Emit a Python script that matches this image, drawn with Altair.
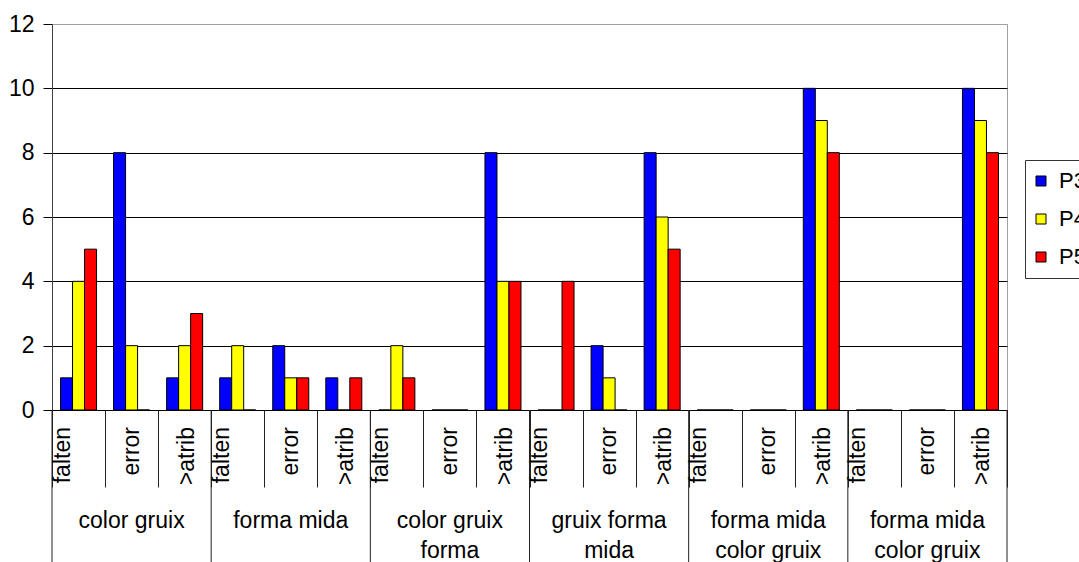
import altair as alt
import pandas as pd

# Category hierarchy: six groups, each split into three sub-categories
group_labels = [
    "color gruix",
    "forma mida",
    "color gruix\nforma",
    "gruix forma\nmida",
    "forma mida\ncolor gruix",
    "forma mida\ncolor gruix",
]
sub_labels = ["falten", "error", ">atrib"]

# Series values, one per (group, sub-category) cell
series = ["P3", "P4", "P5"]
p3 = [1, 8, 1, 1, 2, 1, 0, 0, 8, 0, 2, 8, 0, 0, 10, 0, 0, 10]
p4 = [4, 2, 2, 2, 1, 0, 2, 0, 4, 0, 1, 6, 0, 0, 9, 0, 0, 9]
p5 = [5, 0, 3, 0, 1, 1, 1, 0, 4, 4, 0, 5, 0, 0, 8, 0, 0, 8]
series_colors = ["#0000ff", "#ffff00", "#ff0000"]
y_ticks = [0, 2, 4, 6, 8, 10, 12]

FONT = "Liberation Sans"
FS = 23

keys, groups, subs = [], [], []
for gi, g in enumerate(group_labels):
    for s in sub_labels:
        keys.append(f"{gi}|{s}")
        groups.append(g)
        subs.append(s)
cells = pd.DataFrame({"key": keys, "group": groups, "sub": subs})

rows = []
for name, vals in zip(series, [p3, p4, p5]):
    for k, v in zip(keys, vals):
        rows.append({"key": k, "series": name, "value": v})
bars_df = pd.DataFrame(rows)

x_scale = alt.Scale(domain=keys, paddingInner=0, paddingOuter=0)

bars = alt.Chart(bars_df).mark_bar(stroke="black", strokeWidth=1).encode(
    x=alt.X(
        "key:N",
        scale=x_scale,
        axis=alt.Axis(
            title=None,
            labels=False,
            domain=False,
            grid=False,
            ticks=True,
            tickBand="extent",
            tickSize=77,
            tickColor="#222222",
            tickWidth=1,
        ),
    ),
    xOffset=alt.XOffset(
        "series:N", scale=alt.Scale(domain=series, paddingInner=0, paddingOuter=0.71)
    ),
    y=alt.Y(
        "value:Q",
        scale=alt.Scale(domain=[0, 12], nice=False),
        axis=alt.Axis(
            title=None,
            values=y_ticks,
            tickSize=9,
            tickColor="black",
            domainColor="#404040",
            labelFont=FONT,
            labelFontSize=FS,
            labelColor="black",
            labelPadding=9,
            grid=True,
            gridColor={"expr": "datum.value == 12 ? '#a0a0a0' : 'black'"},
            gridWidth=1,
        ),
    ),
    color=alt.Color(
        "series:N",
        scale=alt.Scale(domain=series, range=series_colors),
        legend=alt.Legend(
            title=None,
            orient="none",
            legendX=973,
            legendY=136,
            symbolType="square",
            symbolSize=100,
            symbolStrokeColor="black",
            symbolStrokeWidth=1,
            symbolOffset=-5,
            labelFont=FONT,
            labelFontSize=22,
            labelColor="black",
            labelOffset=7,
            rowPadding=16,
            padding=10,
            strokeColor="#333333",
            fillColor="white",
        ),
    ),
)

# Rotated sub-category labels under each cell
sub_shift = {"falten": -16, "error": 0, ">atrib": 2}
sub_layers = []
for s in sub_labels:
    sub_layers.append(
        alt.Chart(cells[cells["sub"] == s])
        .mark_text(
            angle=270,
            align="right",
            baseline="middle",
            font=FONT,
            fontSize=FS,
            color="black",
            dy=sub_shift[s],
        )
        .encode(x=alt.X("key:N", bandPosition=0.5), y=alt.value(403), text="sub:N")
    )

# Long separators between groups
first_cells = cells.iloc[::3]
group_rules = alt.Chart(first_cells).mark_rule(color="#222222", strokeWidth=1).encode(
    x=alt.X("key:N", bandPosition=0), y=alt.value(386), y2=alt.value(545)
)
end_rule = alt.Chart(cells.iloc[[-1]]).mark_rule(color="#222222", strokeWidth=1).encode(
    x=alt.X("key:N", bandPosition=1), y=alt.value(386), y2=alt.value(545)
)

# Group captions centred under each group of three
mid_cells = cells.iloc[1::3]
group_text = alt.Chart(mid_cells).mark_text(
    align="center",
    baseline="alphabetic",
    font=FONT,
    fontSize=FS,
    color="black",
    lineBreak="\n",
    lineHeight=30,
).encode(x=alt.X("key:N", bandPosition=0.5), y=alt.value(504), text="group:N")

chart = (
    alt.layer(bars, *sub_layers, group_rules, end_rule, group_text)
    .properties(
        width=955,
        height=386,
        autosize=alt.AutoSizeParams(type="none"),
        padding={"left": 52, "top": 24, "right": 72, "bottom": 152},
        background="white",
    )
    .configure_view(stroke="#a0a0a0", strokeWidth=1)
)

chart.save("out.html", embed_options={"renderer": "svg", "actions": False})
